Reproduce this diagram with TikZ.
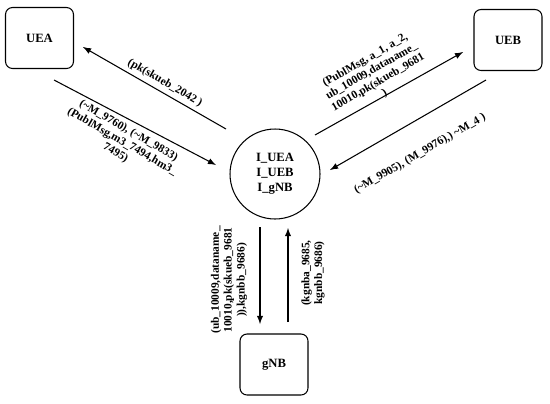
\documentclass[tikz,border=0pt]{standalone}
\usepackage{fontspec}
\setmainfont{Liberation Serif}
\usetikzlibrary{positioning}

\tikzset{
  party/.style={draw,rounded corners=4pt,minimum width=1.36cm,minimum height=1.22cm,line width=0.6pt,font=\fontsize{7.2}{8.5}\selectfont\bfseries},
  msg/.style={line width=0.6pt,-latex},
  lbl/.style={align=center,inner sep=0pt}
}

\begin{document}
\begin{tikzpicture}[x=0.02cm,y=-0.02cm,font=\fontsize{6.5}{7.3}\selectfont\bfseries]
  \useasboundingbox (0,0) rectangle (550,403);

  \node[party] (uea) at (39.5,38) {UEA};
  \node[party] (ueb) at (508,40) {UEB};
  \node[party] (gnb) at (274,364.5) {gNB};
  \node[draw,circle,minimum size=1.8cm,line width=0.6pt,align=center,inner sep=0pt,
        font=\fontsize{7.2}{8.6}\selectfont\bfseries] (intr) at (275,174)
    {I\_UEA\\I\_UEB\\I\_gNB};

  \coordinate (a1) at (226,129);
  \coordinate (a2) at (83,47);
  \coordinate (a3) at (54,80);
  \coordinate (a4) at (216,165);
  \coordinate (b1) at (315,135);
  \coordinate (b2) at (463,52);
  \coordinate (b3) at (486,80);
  \coordinate (b4) at (330,170);
  \coordinate (g1) at (260,227);
  \coordinate (g2) at (260,324);
  \coordinate (g3) at (288,322);
  \coordinate (g4) at (288,228);

  \draw[msg] (a1) -- (a2);
  \draw[msg] (a3) -- (a4);
  \draw[msg] (b1) -- (b2);
  \draw[msg] (b3) -- (b4);
  \draw[msg] (g1) -- (g2);
  \draw[msg] (g3) -- (g4);

  \node[lbl,rotate=-30] (m1) at (165,83) {(pk(skueb\_2042 )};
  \node[lbl,rotate=-30] (m2) at (122,142)
    {(\textasciitilde M\_9760), (\textasciitilde M\_9833)\\(PublMsg,m3\_7494,hm3\_\\7495)};
  \node[lbl,rotate=30] (m3) at (375,77)
    {(PublMsg, a\_1, a\_2,\\ub\_10009,dataname\_\\10010,pk(skueb\_9681\\)};
  \node[lbl,rotate=30] (m4) at (420,154)
    {(\textasciitilde M\_9905), (M\_9976),) \textasciitilde M\_4 )};
  \node[lbl,rotate=90] (m5) at (229,280)
    {(ub\_10009,dataname\_\\10010,pk(skueb\_9681\\)),kgnbb\_9686)};
  \node[lbl,rotate=90] (m6) at (313,273)
    {(kgnba\_9685,\\kgnbb\_9686)};
\end{tikzpicture}
\end{document}
